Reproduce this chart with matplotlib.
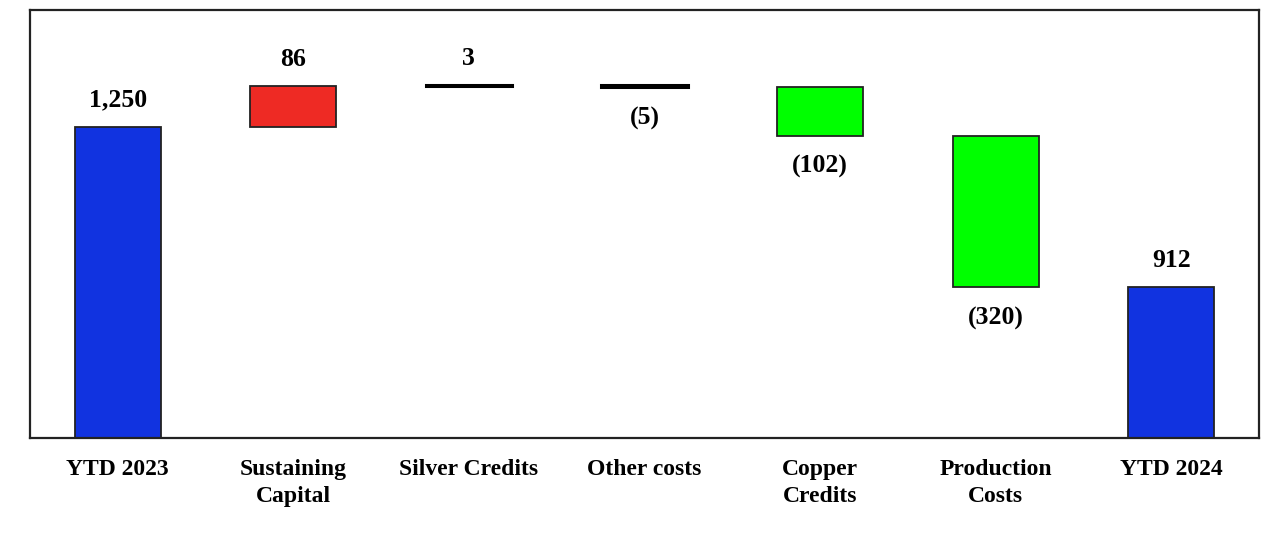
import matplotlib
matplotlib.use("Agg")
import matplotlib.pyplot as plt

categories = ["YTD 2023", "Sustaining\nCapital", "Silver Credits", "Other costs",
              "Copper\nCredits", "Production\nCosts", "YTD 2024"]
values = [1250, 86, 3, -5, -102, -320, 912]
is_total = [True, False, False, False, False, False, True]
labels = ["1,250", "86", "3", "(5)", "(102)", "(320)", "912"]

plt.rcParams['font.family'] = ['Liberation Serif', 'DejaVu Serif']

fig = plt.figure(figsize=(12.88, 5.4), dpi=100)
ax = fig.add_axes([30/1288, 1-438/540, (1259-30)/1288, (438-10)/540])

y0 = 594
y1 = 1497
running = 0
for i, (v, tot) in enumerate(zip(values, is_total)):
    if tot:
        bottom = y0
        height = v - y0
        color = "#1133E0"
        running = v
        above = True
    else:
        if v >= 0:
            bottom = running
            height = v
            above = True
        else:
            bottom = running + v
            height = -v
            above = False
        running += v
        if i == 1:
            color = "#EE2A24"
        elif i in (4, 5):
            color = "#00FF00"
        else:
            color = "black"
    small = abs(height) < 10 and not tot
    ax.bar(i, height, bottom=bottom, width=0.49, color=color,
           edgecolor="black" if small else "#222222",
           linewidth=2.2 if small else 1.3, zorder=2)
    if above:
        ax.annotate(labels[i], xy=(i, bottom + height), xytext=(0, 11),
                    textcoords="offset points", ha="center", va="bottom",
                    fontsize=18.5, fontweight="bold")
    else:
        ax.annotate(labels[i], xy=(i, bottom), xytext=(0, -14),
                    textcoords="offset points", ha="center", va="top",
                    fontsize=18.5, fontweight="bold")

ax.set_xlim(-0.5, 6.5)
ax.set_ylim(y0, y1)
ax.set_yticks([])
ax.set_xticks(range(len(categories)))
ax.set_xticklabels(categories, fontsize=17, fontweight="bold", linespacing=1.4)
ax.tick_params(axis="x", length=0, pad=15)
for s in ax.spines.values():
    s.set_linewidth(1.6)
    s.set_color("#222222")

fig.savefig("out.png", dpi=100, facecolor="white")
